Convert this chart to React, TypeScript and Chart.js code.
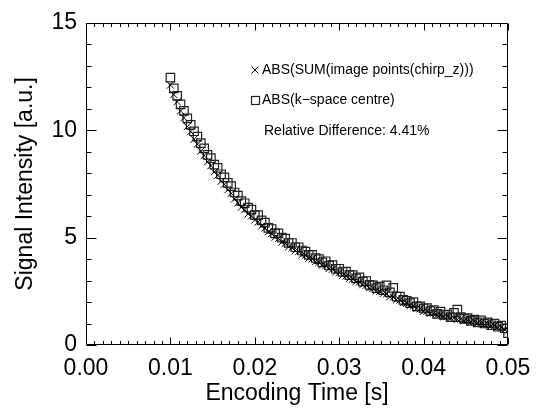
import React, { useEffect, useRef } from "react";
import { Chart, registerables } from "chart.js";

Chart.register(...registerables);

const FONT = '"Liberation Sans", Arial, Helvetica, sans-serif';

// Encoding times [s]
const times = [
  0.0100, 0.0104, 0.0108, 0.0112, 0.0116, 0.0120, 0.0124, 0.0128, 0.0132, 0.0136,
  0.0140, 0.0144, 0.0148, 0.0152, 0.0156, 0.0160, 0.0164, 0.0168, 0.0172, 0.0176,
  0.0180, 0.0184, 0.0188, 0.0192, 0.0196, 0.0200, 0.0204, 0.0208, 0.0212, 0.0216,
  0.0220, 0.0224, 0.0228, 0.0232, 0.0236, 0.0240, 0.0244, 0.0248, 0.0252, 0.0256,
  0.0260, 0.0264, 0.0268, 0.0272, 0.0276, 0.0280, 0.0284, 0.0288, 0.0292, 0.0296,
  0.0300, 0.0304, 0.0308, 0.0312, 0.0316, 0.0320, 0.0324, 0.0328, 0.0332, 0.0336,
  0.0340, 0.0344, 0.0348, 0.0352, 0.0356, 0.0360, 0.0364, 0.0368, 0.0372, 0.0376,
  0.0380, 0.0384, 0.0388, 0.0392, 0.0396, 0.0400, 0.0404, 0.0408, 0.0412, 0.0416,
  0.0420, 0.0424, 0.0428, 0.0432, 0.0436, 0.0440, 0.0444, 0.0448, 0.0452, 0.0456,
  0.0460, 0.0464, 0.0468, 0.0472, 0.0476, 0.0480, 0.0484, 0.0488, 0.0492, 0.0496,
  0.0500,
];

// ABS(SUM(image points(chirp_z)))  -- crosses
const sumImagePoints = [
  12.10, 11.66, 11.33, 10.90, 10.58, 10.17, 9.93, 9.58, 9.35, 9.03,
  8.82, 8.53, 8.35, 8.06, 7.90, 7.62, 7.48, 7.22, 7.06, 6.80,
  6.62, 6.41, 6.30, 6.10, 6.01, 5.82, 5.73, 5.54, 5.45, 5.27,
  5.19, 5.02, 4.96, 4.79, 4.73, 4.57, 4.53, 4.39, 4.35, 4.21,
  4.17, 4.04, 4.01, 3.88, 3.85, 3.72, 3.69, 3.56, 3.53, 3.40,
  3.37, 3.24, 3.21, 3.09, 3.07, 2.95, 2.93, 2.81, 2.78, 2.66,
  2.64, 2.52, 2.50, 2.39, 2.37, 2.25, 2.23, 2.11, 2.09, 1.97,
  1.95, 1.84, 1.82, 1.71, 1.69, 1.57, 1.57, 1.47, 1.48, 1.39,
  1.40, 1.32, 1.34, 1.25, 1.27, 1.19, 1.21, 1.13, 1.15, 1.08,
  1.10, 1.02, 1.04, 0.95, 0.97, 0.89, 0.90, 0.82, 0.82, 0.73,
  0.68,
];

// ABS(k-space centre)  -- squares
const kSpaceCentre = [
  12.45, 11.95, 11.60, 11.20, 10.90, 10.55, 10.25, 9.95, 9.70, 9.40,
  9.15, 8.85, 8.70, 8.40, 8.25, 7.95, 7.80, 7.55, 7.40, 7.10,
  6.95, 6.70, 6.60, 6.40, 6.30, 6.05, 6.05, 5.80, 5.70, 5.45,
  5.40, 5.20, 5.20, 5.00, 4.95, 4.75, 4.75, 4.55, 4.55, 4.40,
  4.35, 4.20, 4.20, 4.05, 4.00, 3.85, 3.90, 3.70, 3.72, 3.55,
  3.55, 3.40, 3.42, 3.25, 3.25, 3.10, 3.15, 2.95, 2.98, 2.80,
  2.78, 2.65, 2.72, 2.55, 2.78, 2.45, 2.66, 2.25, 2.25, 2.10,
  2.05, 1.95, 2.00, 1.80, 1.80, 1.70, 1.72, 1.58, 1.62, 1.45,
  1.55, 1.40, 1.42, 1.30, 1.50, 1.65, 1.30, 1.22, 1.25, 1.12,
  1.18, 1.05, 1.15, 1.00, 1.05, 0.92, 1.00, 0.85, 0.90, 0.78,
  0.55,
];

const seriesLabels = ["ABS(SUM(image points(chirp_z)))", "ABS(k\u2212space centre)"];
const noteText = "Relative Difference: 4.41%";
const xTitle = "Encoding Time [s]";
const yTitle = "Signal Intensity [a.u.]";
const xTickValues = [0, 0.01, 0.02, 0.03, 0.04, 0.05];
const yTickValues = [0, 5, 10, 15];

export default function App() {
  const ref = useRef<HTMLCanvasElement>(null);

  useEffect(() => {
    document.body.style.margin = "0";
    const canvas = ref.current!;

    const idlPlugin = {
      id: "idlBox",
      afterDraw(chart: any) {
        const { ctx, chartArea: a, scales } = chart;
        const xs = scales.x;
        const ys = scales.y;
        ctx.save();
        ctx.strokeStyle = "#000";
        ctx.lineWidth = 1;
        const L = Math.round(a.left) + 0.5;
        const R = Math.round(a.right) - 0.5;
        const T = Math.round(a.top) + 0.5;
        const B = Math.round(a.bottom) - 0.5;
        ctx.beginPath();
        ctx.rect(L, T, R - L, B - T);
        ctx.stroke();

        // x ticks (inward, bottom and top)
        ctx.beginPath();
        for (let k = 0; k <= 50; k++) {
          const v = k / 1000;
          const px = Math.round(xs.getPixelForValue(v)) + 0.5;
          const len = k % 10 === 0 ? 7 : 3.5;
          ctx.moveTo(px, B);
          ctx.lineTo(px, B - len);
          ctx.moveTo(px, T);
          ctx.lineTo(px, T + len);
        }
        // y ticks (inward, left and right)
        for (let k = 0; k <= 15; k++) {
          const py = Math.round(ys.getPixelForValue(k)) + 0.5;
          const len = k % 5 === 0 ? 10 : 5;
          ctx.moveTo(L, py);
          ctx.lineTo(L + len, py);
          ctx.moveTo(R, py);
          ctx.lineTo(R - len, py);
        }
        ctx.stroke();

        // axis titles
        ctx.fillStyle = "#000";
        ctx.font = `23px ${FONT}`;
        ctx.textAlign = "center";
        ctx.textBaseline = "middle";
        ctx.fillText(xTitle, (a.left + a.right) / 2, 394);
        ctx.save();
        ctx.translate(26, (a.top + a.bottom) / 2);
        ctx.rotate(-Math.PI / 2);
        ctx.fillText(yTitle, 0, 0);
        ctx.restore();

        // legend
        ctx.font = `14px ${FONT}`;
        ctx.textAlign = "left";
        ctx.textBaseline = "middle";
        // cross
        ctx.beginPath();
        ctx.moveTo(251.5, 66.5);
        ctx.lineTo(258.5, 73.5);
        ctx.moveTo(258.5, 66.5);
        ctx.lineTo(251.5, 73.5);
        ctx.stroke();
        ctx.fillText(seriesLabels[0], 262, 70);
        // square
        ctx.lineWidth = 1.2;
        ctx.strokeStyle = "#222";
        ctx.strokeRect(251.5, 96.5, 8, 8);
        ctx.fillText(seriesLabels[1], 262, 100);
        ctx.fillText(noteText, 264, 131);
        ctx.restore();
      },
    };

    const chart = new Chart(canvas, {
      type: "scatter",
      data: {
        datasets: [
          {
            label: seriesLabels[0],
            data: times.map((t, i) => ({ x: t, y: sumImagePoints[i] })),
            pointStyle: "crossRot",
            pointRadius: 5,
            borderColor: "#000",
            borderWidth: 1,
            backgroundColor: "#000",
            showLine: false,
            order: 0,
          },
          {
            label: seriesLabels[1],
            data: times.map((t, i) => ({ x: t, y: kSpaceCentre[i] })),
            pointStyle: "rect",
            pointRadius: 6,
            borderColor: "#222",
            borderWidth: 1.2,
            backgroundColor: "rgba(0,0,0,0)",
            showLine: false,
            order: 1,
          },
        ],
      },
      options: {
        responsive: false,
        animation: false,
        devicePixelRatio: 1,
        layout: { padding: { left: 0, top: 12, right: 33, bottom: 0 } },
        plugins: { legend: { display: false }, tooltip: { enabled: false } },
        scales: {
          x: {
            type: "linear",
            min: 0,
            max: 0.05,
            afterFit: (s: any) => {
              s.height = 65;
            },
            afterBuildTicks: (s: any) => {
              s.ticks = xTickValues.map((v) => ({ value: v }));
            },
            grid: { display: false, drawTicks: false },
            border: { display: false },
            ticks: {
              color: "#000",
              font: { family: FONT, size: 23 },
              padding: 10,
              maxRotation: 0,
              callback: (v: any) => Number(v).toFixed(2),
            },
          },
          y: {
            type: "linear",
            min: 0,
            max: 15,
            afterFit: (s: any) => {
              s.width = 86;
            },
            afterBuildTicks: (s: any) => {
              s.ticks = yTickValues.map((v) => ({ value: v }));
            },
            grid: { display: false, drawTicks: false },
            border: { display: false },
            ticks: {
              color: "#000",
              font: { family: FONT, size: 23 },
              padding: 9,
              callback: (v: any) => String(v),
            },
          },
        },
      },
      plugins: [idlPlugin],
    } as any);

    return () => chart.destroy();
  }, []);

  return (
    <div style={{ position: "absolute", left: 0, top: 0, width: 541, height: 410, background: "#fff" }}>
      <canvas ref={ref} width={541} height={410} />
    </div>
  );
}
